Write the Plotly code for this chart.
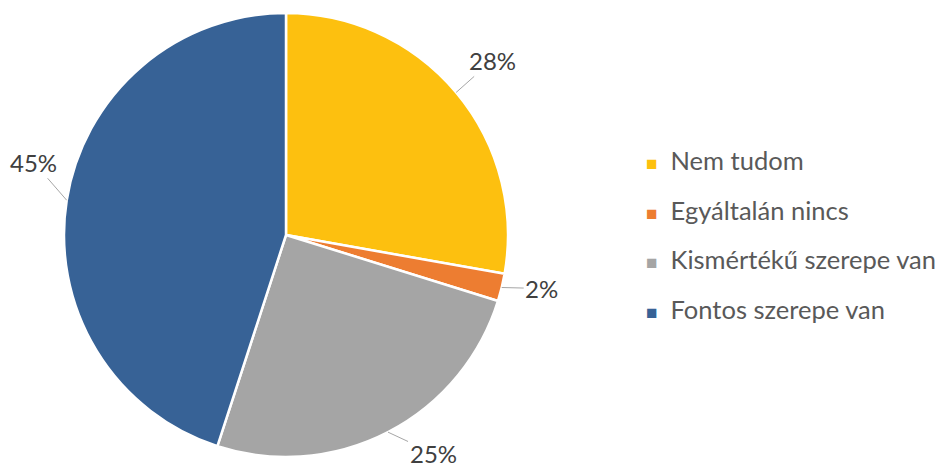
import math
import plotly.graph_objects as go

categories = ["Nem tudom", "Egyáltalán nincs", "Kismértékű szerepe van", "Fontos szerepe van"]
values = [27.8, 2.0, 25.2, 45.0]
labels_text = ["28%", "2%", "25%", "45%"]
colors = ["#FDC00F", "#ED7D31", "#A5A5A5", "#376296"]

W, H = 939, 470
CX, CY, R = 286, 235, 222  # pie geometry in pixels

# label offsets (pixels) from the slice edge to the label text
offsets = [(36, -32), (40, 1), (45, 21), (-33, -38)]

fig = go.Figure(go.Pie(
    labels=categories, values=values, sort=False, direction="clockwise", rotation=0,
    marker=dict(colors=colors, line=dict(color="white", width=2.5)),
    textinfo="none", hoverinfo="label+percent", showlegend=False,
    domain=dict(x=[(CX - R) / W, (CX + R) / W], y=[1 - (CY + R) / H, 1 - (CY - R) / H]),
))

annotations = []
total = sum(values)
cum = 0.0
for v, t, (ax, ay) in zip(values, labels_text, offsets):
    mid = (cum + v / 2) / total * 2 * math.pi
    cum += v
    px = CX + R * math.sin(mid)
    py = CY - R * math.cos(mid)
    annotations.append(dict(
        x=px / W, y=1 - py / H, xref="paper", yref="paper", text=t,
        showarrow=True, arrowhead=0, arrowwidth=1, arrowcolor="#A6A6A6",
        ax=ax, ay=ay, font=dict(size=24, color="#404040", family="Lato"),
    ))

# legend
for i, (c, col) in enumerate(zip(categories, colors)):
    ypix = 160 + i * 49.7
    annotations.append(dict(
        x=644 / W, y=1 - ypix / H, xref="paper", yref="paper", xanchor="left", yanchor="middle",
        showarrow=False,
        text=f'<span style="color:{col};font-size:19px">■</span>  {c}',
        font=dict(size=25.5, color="#595959", family="Lato"),
    ))

fig.update_layout(
    width=W, height=H, margin=dict(l=0, r=0, t=0, b=0),
    paper_bgcolor="white", plot_bgcolor="white",
    annotations=annotations,
)
fig.write_html("out.html", config={"displayModeBar": False},
               post_script="document.body.style.margin='0';")
